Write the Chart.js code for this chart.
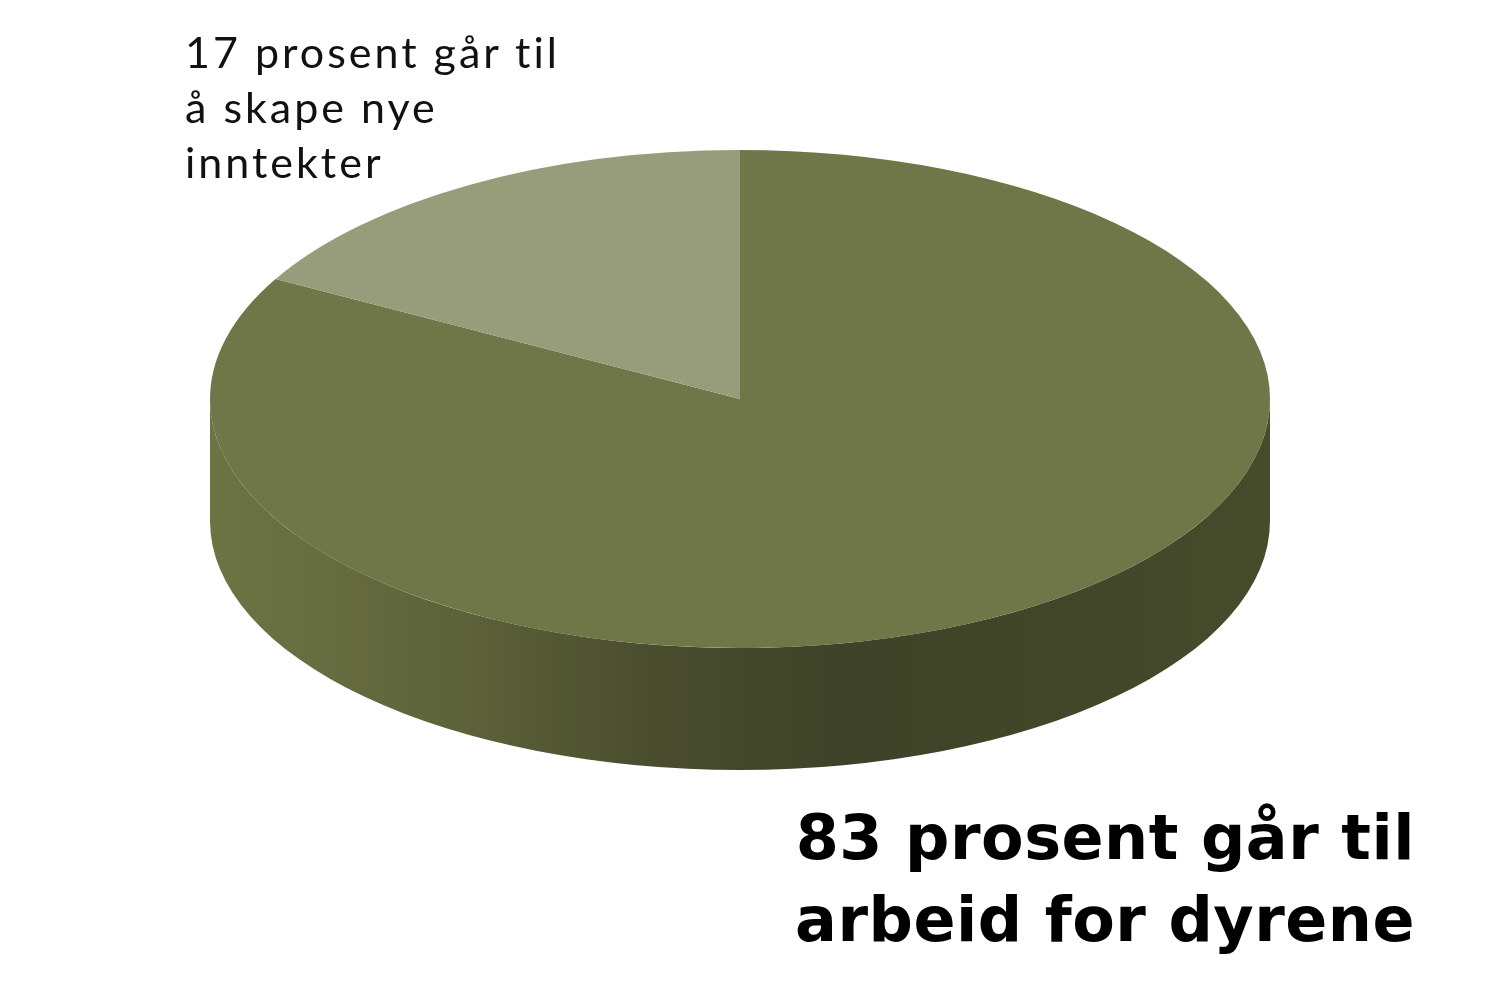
<!DOCTYPE html>
<html>
<head>
<meta charset="utf-8">
<script src="https://cdn.jsdelivr.net/npm/chart.js@4/dist/chart.umd.min.js"></script>
<style>
  html, body { margin: 0; padding: 0; background: #fff; }
  #wrap { position: relative; width: 1500px; height: 1001px; overflow: hidden; }
  #pie { position: absolute; left: 0; top: 0; }
  .lbl { position: absolute; color: #111; white-space: nowrap; }
  #small { left: 185px; top: 24px; font: 400 43px/55px "Lato", sans-serif; letter-spacing: 3px; }
  #big { right: 85px; top: 797px; font: 700 62px/82px "DejaVu Sans", sans-serif; letter-spacing: 0.5px; text-align: right; color: #000; }
</style>
</head>
<body>
<div id="wrap">
  <canvas id="pie" width="1500" height="1001"></canvas>
  <div class="lbl" id="small">17 prosent går til<br>å skape nye<br>inntekter</div>
  <div class="lbl" id="big">83 prosent går til<br>arbeid for dyrene</div>
</div>
<script>
// share of the budget, percent
const labels = ['Arbeid for dyrene', 'Skape nye inntekter'];
const shares = [83, 17];
const sliceColors = ['#6f7749', '#979c7a'];

// ellipse of the top face in pixels
const TOP_RX = 530;
const TOP_RY = 249;
const DEPTH = 122;

// squash the flat pie into a tilted disc and draw its side wall
const tiltPlugin = {
  id: 'tilt',
  beforeDatasetsDraw(chart) {
    const arc = chart.getDatasetMeta(0).data[0];
    const ctx = chart.ctx;
    const cx = arc.x, cy = arc.y, r = arc.outerRadius;

    const grad = ctx.createLinearGradient(cx - TOP_RX, 0, cx + TOP_RX, 0);
    grad.addColorStop(0, '#6c7444');
    grad.addColorStop(0.22, '#5e643a');
    grad.addColorStop(0.42, '#494d2e');
    grad.addColorStop(0.6, '#3e4228');
    grad.addColorStop(1, '#464b2b');

    ctx.save();
    ctx.beginPath();
    ctx.ellipse(cx, cy + DEPTH, TOP_RX, TOP_RY, 0, 0, Math.PI);
    ctx.lineTo(cx - TOP_RX, cy);
    ctx.ellipse(cx, cy, TOP_RX, TOP_RY, 0, Math.PI, 0, true);
    ctx.closePath();
    ctx.fillStyle = grad;
    ctx.fill();
    ctx.restore();

    ctx.save();
    ctx.translate(cx, cy);
    ctx.scale(TOP_RX / r, TOP_RY / r);
    ctx.translate(-cx, -cy);
  },
  afterDatasetsDraw(chart) {
    chart.ctx.restore();
  }
};

new Chart(document.getElementById('pie'), {
  type: 'pie',
  data: {
    labels,
    datasets: [{
      data: shares,
      backgroundColor: sliceColors,
      borderWidth: 0,
      hoverOffset: 0
    }]
  },
  options: {
    responsive: false,
    animation: false,
    devicePixelRatio: 1,
    events: [],
    layout: { padding: { left: 440, right: 460, top: 99, bottom: 302 } },
    plugins: {
      legend: { display: false },
      tooltip: { enabled: false }
    }
  },
  plugins: [tiltPlugin]
});
</script>
</body>
</html>
